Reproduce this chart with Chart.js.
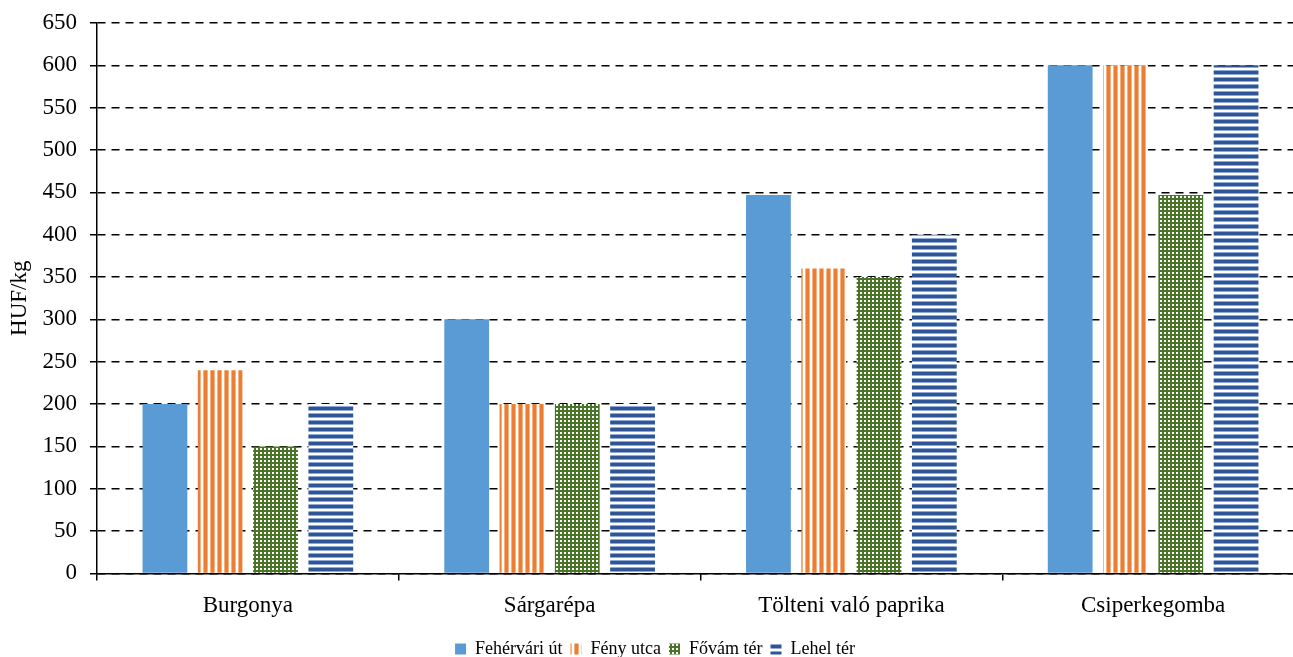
<!DOCTYPE html>
<html>
<head>
<meta charset="utf-8">
<script src="https://cdn.jsdelivr.net/npm/chart.js@4"></script>
<style>
  html, body { margin: 0; padding: 0; background: #fff; overflow: hidden; }
  #wrap { width: 1304px; height: 668px; position: relative; }
</style>
</head>
<body>
<div id="wrap"><canvas id="chart"></canvas></div>
<script>
const categories = ["Burgonya", "Sárgarépa", "Tölteni való paprika", "Csiperkegomba"];
const seriesNames = ["Fehérvári út", "Fény utca", "Fővám tér", "Lehel tér"];
const fehervari = [200, 300, 447, 600];
const fenyUtca = [240, 200, 360, 600];
const fovam = [150, 200, 350, 447];
const lehel = [200, 200, 400, 600];

// pattern helpers
function makePattern(w, h, draw) {
  const c = document.createElement("canvas");
  c.width = w; c.height = h;
  const g = c.getContext("2d");
  draw(g);
  return document.getElementById("chart").getContext("2d").createPattern(c, "repeat");
}
const solidBlue = "#5b9bd5";
const orangeStripes = makePattern(7, 7, g => {
  g.fillStyle = "#fff"; g.fillRect(0, 0, 7, 7);
  g.fillStyle = "#f4b183"; g.fillRect(0, 0, 5, 7);
  g.fillStyle = "#ed7d31"; g.fillRect(1, 0, 3, 7);
});
const greenCheck = makePattern(4, 4, g => {
  g.fillStyle = "#4a7529"; g.fillRect(0, 0, 4, 4);
  g.fillStyle = "#fff"; g.fillRect(0, 0, 2, 2);
});
const blueStripes = makePattern(7, 7, g => {
  g.fillStyle = "#fff"; g.fillRect(0, 0, 7, 7);
  g.fillStyle = "#8fa9d6"; g.fillRect(0, 0, 7, 5);
  g.fillStyle = "#2f5597"; g.fillRect(0, 1, 7, 3);
});

const ctx = document.getElementById("chart").getContext("2d");
const data = {
  labels: categories,
  datasets: [
    { label: seriesNames[0], data: fehervari, backgroundColor: solidBlue },
    { label: seriesNames[1], data: fenyUtca, backgroundColor: orangeStripes },
    { label: seriesNames[2], data: fovam, backgroundColor: greenCheck },
    { label: seriesNames[3], data: lehel, backgroundColor: blueStripes }
  ]
};

const font = "'Liberation Serif', 'Times New Roman', serif";
const config = {
  type: 'bar',
  data: data,
  options: {
    responsive: true,
    maintainAspectRatio: false,
    animation: false,
    categoryPercentage: 0.733,
    barPercentage: 0.81,
    layout: { padding: { top: 23, left: 6, right: 0, bottom: 0 } },
    plugins: {
      tooltip: { enabled: false },
      legend: {
        position: 'bottom',
        labels: {
          font: { family: font, size: 18 },
          color: "#000",
          boxWidth: 11,
          boxHeight: 11,
          padding: 8
        }
      }
    },
    scales: {
      x: {
        grid: { display: true, offset: true, drawOnChartArea: false, tickLength: 7, color: "#000", lineWidth: 1.5 },
        border: { color: "#000", width: 1.5 },
        ticks: { font: { family: font, size: 23 }, color: "#000", padding: 12 }
      },
      y: {
        min: 0,
        max: 650,
        afterFit: s => { s.width = 91; s.paddingTop = 12; s.paddingBottom = 12; },
        ticks: { stepSize: 50, font: { family: font, size: 23 }, color: "#000", padding: 13 },
        grid: { color: "#000", lineWidth: 1.5, tickLength: 7 },
        border: { color: "#000", width: 1.5, dash: [8, 6] },
        title: { display: true, text: "HUF/kg", font: { family: font, size: 23 }, color: "#000", padding: 0 }
      }
    }
  }
};

const chart = new Chart(ctx, config);
</script>
</body>
</html>
